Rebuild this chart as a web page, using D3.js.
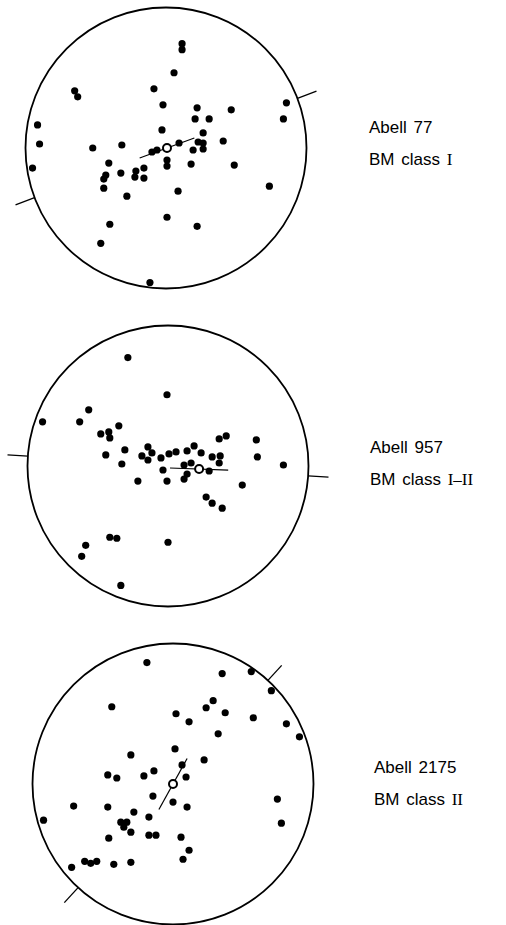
<!DOCTYPE html>
<html>
<head>
  <meta charset="utf-8">
  <title>Galaxy distributions in Abell 77, 957 and 2175</title>
  <script src="https://d3js.org/d3.v7.min.js"></script>
  <style>
    body { margin: 0; background: #fff; }
    .label { font-family: "Liberation Sans", Arial, sans-serif; font-size: 17px; fill: #000; word-spacing: 2px; }
    .roman { font-family: "Liberation Serif", serif; }
  </style>
</head>
<body>
<svg id="chart" width="506" height="925"></svg>
<script>
// cluster names and Bautz-Morgan classes
var clusterNames = ["Abell 77", "Abell 957", "Abell 2175"];
var bmClasses = ["I", "I\u2013II", "II"];

// galaxy offsets from the field centre (x to the right, y downwards)
var galaxiesA77 = [
  [-91,-57], [-88,-51], [-12,-59], [-3,-43], [-128,-23], [-126,-4], [-4,-18],
  [-73,0], [-44,-3], [-14,4], [-9,2], [16,-104], [16,-98], [8,-75], [31,-40],
  [29,-29], [43,-29], [65,-38], [120,-45], [117,-29], [37,-15], [32,-6],
  [37,-5], [27,2], [37,1], [57,-7], [13,-5], [1,12], [1,18], [-133,20],
  [-57,15], [-60,27], [-62,31], [-45,25], [-30,23], [-22,20], [-31,29],
  [-22,30], [-62,40], [-39,48], [1,69], [-56,76], [-65,95], [-16,134],
  [25,16], [68,17], [103,38], [12,43], [31,78]
];
var galaxiesA957 = [
  [-40,-108], [-1,-71], [-79,-56], [-125,-44], [-88,-44], [-49,-40], [-67,-32],
  [-59,-34], [-58,-28], [-62,-11], [-43,-16], [-20,-19], [-16,-13], [-26,-10],
  [-20,-6], [-7,-8], [1,-12], [51,-27], [58,-30], [88,-26], [8,-14], [19,-15],
  [26,-20], [33,-13], [44,-9], [52,-10], [51,-3], [89,-9], [-46,-2], [-5,4],
  [-30,15], [-1,15], [-58,71], [-51,72], [-82,79], [-86,90], [0,76], [-47,119],
  [16,-1], [23,-3], [41,5], [19,8], [16,13], [115,-1], [74,19], [38,31],
  [44,37], [54,42]
];
var galaxiesA2175 = [
  [-26,-121], [-61,-77], [-42,-29], [-65,-9], [-56,-6], [-29,-8], [-19,-13],
  [49,-110], [78,-112], [98,-93], [40,-83], [33,-76], [3,-70], [16,-62],
  [52,-71], [80,-66], [113,-60], [126,-47], [45,-50], [2,-35], [31,-24],
  [9,-19], [13,-7], [-20,12], [-99,22], [-65,23], [-39,28], [-24,33],
  [-129,36], [-52,38], [-46,38], [-49,43], [-42,48], [-24,51], [-17,51],
  [-64,54], [-88,77], [-82,79], [-76,77], [-101,83], [-59,80], [-42,78],
  [0,18], [14,23], [104,15], [108,39], [8,53], [16,66], [10,75]
];

// brightest (cD) galaxy: offset and major axis angle in degrees
var cdOffsets = [[1,0], [31,3], [0,0]];
var cdAngles = [-20, 2, -61];
var cdHalfLength = 29;

// cluster major axis, marked by ticks on the field edge (degrees)
var axisAngles = [-20.7, 4, -47.5];
var fieldRadius = 140;

// layout of the three fields
var panels = [
  { cx: 166, cy: 148, r: 140.5, tx: 369, ty: 133 },
  { cx: 168, cy: 466, r: 140.5, tx: 370, ty: 453 },
  { cx: 173, cy: 784, r: 140.5, tx: 374, ty: 773 }
];
var galaxySets = [galaxiesA77, galaxiesA957, galaxiesA2175];

var svg = d3.select("#chart");

panels.forEach(function(p, i) {
  var x = d3.scaleLinear().domain([-fieldRadius, fieldRadius]).range([p.cx - p.r, p.cx + p.r]);
  var y = d3.scaleLinear().domain([-fieldRadius, fieldRadius]).range([p.cy - p.r, p.cy + p.r]);
  var g = svg.append("g").attr("class", "field");

  // field edge
  g.append("circle")
    .attr("cx", x(0))
    .attr("cy", y(0))
    .attr("r", x(fieldRadius) - x(0))
    .attr("fill", "none")
    .attr("stroke", "#000")
    .attr("stroke-width", 1.8);

  // axis ticks on both sides
  var a = axisAngles[i] * Math.PI / 180;
  [0, Math.PI].forEach(function(off) {
    var c = Math.cos(a + off), s = Math.sin(a + off);
    g.append("line")
      .attr("x1", x(fieldRadius * c)).attr("y1", y(fieldRadius * s))
      .attr("x2", x(fieldRadius * 1.145 * c)).attr("y2", y(fieldRadius * 1.145 * s))
      .attr("stroke", "#000")
      .attr("stroke-width", 1.3);
  });

  // cD major axis
  var cd = cdOffsets[i];
  var b = cdAngles[i] * Math.PI / 180;
  g.append("line")
    .attr("x1", x(cd[0] - cdHalfLength * Math.cos(b)))
    .attr("y1", y(cd[1] - cdHalfLength * Math.sin(b)))
    .attr("x2", x(cd[0] + cdHalfLength * Math.cos(b)))
    .attr("y2", y(cd[1] + cdHalfLength * Math.sin(b)))
    .attr("stroke", "#000")
    .attr("stroke-width", 1.2);

  // galaxies
  g.selectAll(".galaxy")
    .data(galaxySets[i])
    .enter()
    .append("circle")
    .attr("class", "galaxy")
    .attr("cx", function(d) { return x(d[0]); })
    .attr("cy", function(d) { return y(d[1]); })
    .attr("r", 3.6)
    .attr("fill", "#000");

  // cD galaxy (open symbol)
  g.append("circle")
    .attr("cx", x(cd[0]))
    .attr("cy", y(cd[1]))
    .attr("r", 4)
    .attr("fill", "#fff")
    .attr("stroke", "#000")
    .attr("stroke-width", 2);

  // labels
  svg.append("text")
    .attr("class", "label")
    .attr("x", p.tx)
    .attr("y", p.ty)
    .text(clusterNames[i]);

  var t = svg.append("text")
    .attr("class", "label")
    .attr("x", p.tx)
    .attr("y", p.ty + 32);
  t.append("tspan").text("BM class ");
  t.append("tspan").attr("class", "roman").text(bmClasses[i]);
});
</script>
</body>
</html>
